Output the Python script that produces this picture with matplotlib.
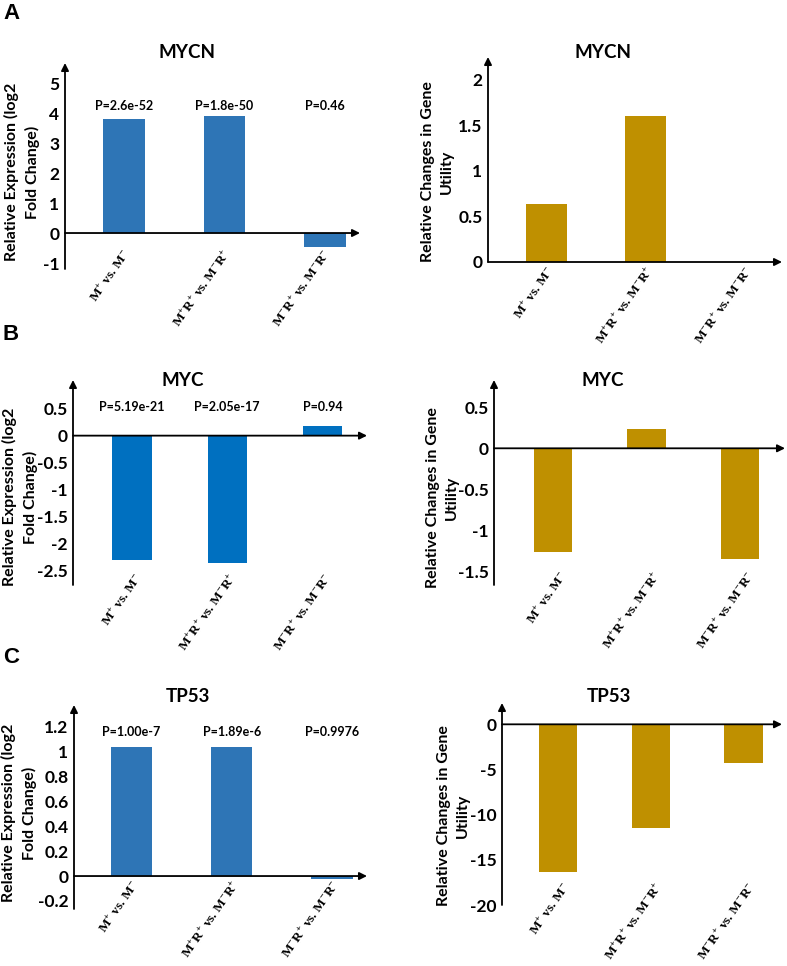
"""Relative expression vs. relative gene utility for MYCN, MYC and TP53."""

import matplotlib

matplotlib.use("Agg")
import matplotlib.pyplot as plt
from matplotlib.ticker import FuncFormatter

plt.rcParams["font.family"] = ["Lato", "DejaVu Sans"]
plt.rcParams["font.weight"] = "bold"
plt.rcParams["mathtext.fontset"] = "custom"
plt.rcParams["mathtext.rm"] = "Liberation Serif:bold"
plt.rcParams["mathtext.it"] = "Liberation Serif:bold"
plt.rcParams["mathtext.bf"] = "Liberation Serif:bold"

# ---- data -------------------------------------------------------------
comparisons = [
    r"M$^{+}$ vs. M$^{-}$",
    r"M$^{+}$R$^{+}$ vs. M$^{-}$R$^{+}$",
    r"M$^{-}$R$^{+}$ vs. M$^{-}$R$^{-}$",
]
genes = ["MYCN", "MYC", "TP53"]

mycn_expr = [3.80, 3.91, -0.47]
mycn_p = ["P=2.6e-52", "P=1.8e-50", "P=0.46"]
mycn_util = [0.64, 1.60, 0.0]

myc_expr = [-2.31, -2.36, 0.17]
myc_p = ["P=5.19e-21", "P=2.05e-17", "P=0.94"]
myc_util = [-1.27, 0.23, -1.35]

tp53_expr = [1.035, 1.04, -0.02]
tp53_p = ["P=1.00e-7", "P=1.89e-6", "P=0.9976"]
tp53_util = [-16.3, -11.5, -4.3]

expr_ticks = [range(-1, 6), [-2.5, -2, -1.5, -1, -0.5, 0, 0.5],
              [-0.2, 0, 0.2, 0.4, 0.6, 0.8, 1, 1.2]]
util_ticks = [[0, 0.5, 1, 1.5, 2], [-1.5, -1, -0.5, 0, 0.5],
              [-20, -15, -10, -5, 0]]

BLUE_AC = "#2E75B6"
BLUE_B = "#0070C0"
GOLD = "#BF9000"

W, H = 787, 966
fig = plt.figure(figsize=(W / 100, H / 100), dpi=100)


def px_axes(x0, x1, yt, yb):
    """Axes whose box spans the given pixel extents (origin top-left)."""
    return fig.add_axes([x0 / W, 1 - yb / H, (x1 - x0) / W, (yb - yt) / H])


def draw_panel(ax, gene, values, color, xlim, ylim, ticks, title_xy, ylabel,
               ylabel_xy, lab_y, lab_dx, p_labels=None, p_y=None):
    ax.bar(range(len(values)), values, width=0.41, color=color, zorder=2)
    ax.set_xlim(*xlim)
    ax.set_ylim(*ylim)
    for s in ax.spines.values():
        s.set_visible(False)
    ax.set_xticks([])
    ax.set_yticks(list(ticks))
    ax.yaxis.set_major_formatter(FuncFormatter(lambda v, _: f"{v:g}"))
    ax.tick_params(axis="y", length=0, pad=4, labelsize=12.5)
    for lab in ax.get_yticklabels():
        lab.set_fontweight("bold")
    arrow = dict(arrowstyle="-|>", color="black", lw=1.3, shrinkA=0, shrinkB=0,
                 mutation_scale=11)
    ax.annotate("", xy=(0, 1), xytext=(0, 0), xycoords="axes fraction",
                arrowprops=arrow, annotation_clip=False)
    ax.annotate("", xy=(1, 0), xytext=(0, 0), xycoords=("axes fraction", "data"),
                arrowprops=arrow, annotation_clip=False)
    # category labels, anchored by their upper end (pixel y from top)
    h = ax.get_position().height * H
    y_bottom = (1 - ax.get_position().y0) * H
    for i, name in enumerate(comparisons):
        ax.text(i + lab_dx, (y_bottom - lab_y) / h, name,
                transform=ax.get_xaxis_transform(), rotation=55,
                rotation_mode="anchor", ha="right", va="top", fontsize=9.6,
                family="Liberation Serif", fontweight="bold", clip_on=False)
    if p_labels:
        for i, p in enumerate(p_labels):
            ax.text(i, p_y, p, ha="center", va="center", fontsize=9,
                    fontweight="bold")
    fig.text(title_xy[0] / W, 1 - title_xy[1] / H, gene,
             ha="center", va="center", fontsize=13.5, fontweight="bold")
    fig.text(ylabel_xy[0] / W, 1 - ylabel_xy[1] / H, ylabel, rotation=90,
             ha="center", va="center", multialignment="center", fontsize=11.5,
             fontweight="bold", linespacing=1.45)


expr_label = "Relative Expression (log2\nFold Change)"
util_label = "Relative Changes in Gene\nUtility"

# A: MYCN
ax = px_axes(65, 360, 63, 269)
draw_panel(ax, genes[0], mycn_expr, BLUE_AC, (-0.587, 2.348), (-1.2, 5.67),
           expr_ticks[0], (187, 53), expr_label, (22, 172), 248, -0.02, mycn_p, 4.23)
ax = px_axes(488, 782, 57, 262)
draw_panel(ax, genes[0], mycn_util, GOLD, (-0.591, 2.379), (0, 2.25),
           util_ticks[0], (603, 52), util_label, (437, 172), 265, 0.0)

# B: MYC
ax = px_axes(73, 367, 380, 585)
draw_panel(ax, genes[1], myc_expr, BLUE_B, (-0.619, 2.467), (-2.765, 1.03),
           expr_ticks[1], (183, 380), expr_label, (20, 497), 572, 0.02, myc_p, 0.53)
ax = px_axes(494, 785, 380, 585)
draw_panel(ax, genes[1], myc_util, GOLD, (-0.631, 2.48), (-1.667, 0.833),
           util_ticks[1], (603, 380), util_label, (442, 498), 570, 0.07)

# C: TP53
ax = px_axes(74, 367, 705, 909)
draw_panel(ax, genes[2], tp53_expr, BLUE_AC, (-0.574, 2.349), (-0.265, 1.375),
           expr_ticks[2], (188, 697), expr_label, (19, 813), 879, 0.0, tp53_p, 1.16)
ax = px_axes(502, 782, 703, 905)
draw_panel(ax, genes[2], tp53_util, GOLD, (-0.604, 2.415), (-20.0, 2.36),
           util_ticks[2], (609, 696), util_label, (453, 816), 881, 0.05)

for letter, y in [("A", 3), ("B", 324), ("C", 647)]:
    fig.text(3 / W, 1 - y / H, letter, ha="left", va="top", fontsize=16,
             fontweight="bold", family="Liberation Sans")

fig.savefig("out.png", dpi=100)
